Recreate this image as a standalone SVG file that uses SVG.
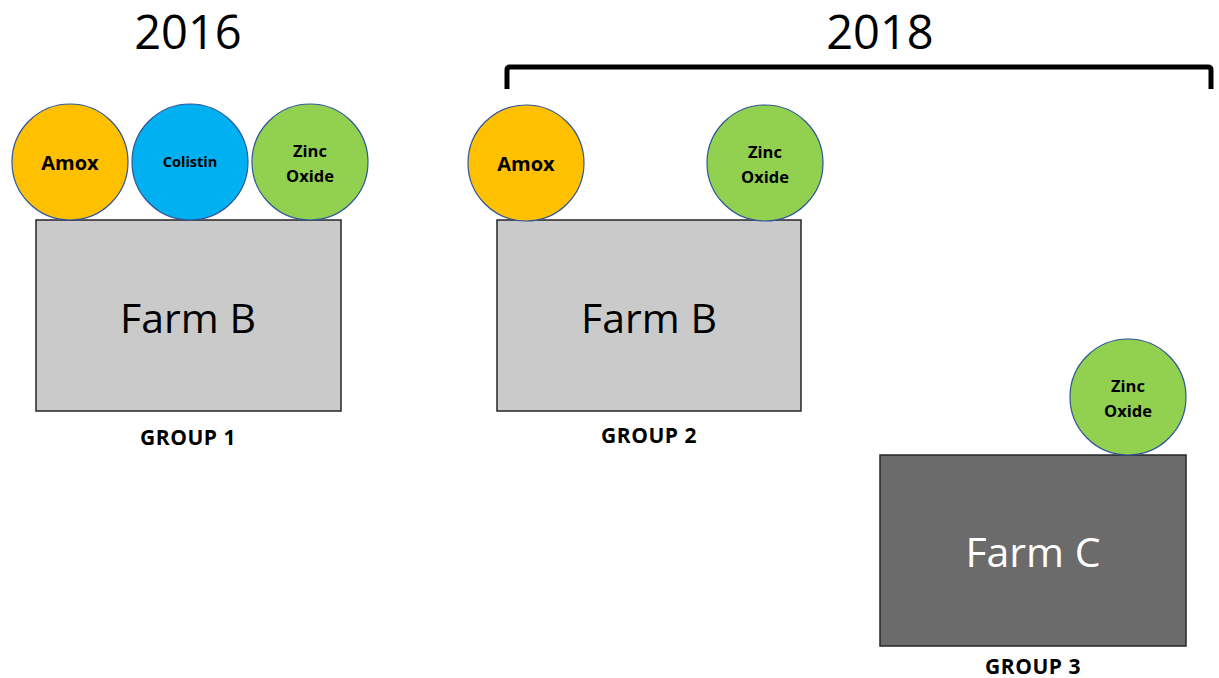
<svg xmlns="http://www.w3.org/2000/svg" width="1219" height="678" viewBox="0 0 1219 678">
<style>
.bg{fill:#ffffff}
.circ{stroke:#2f5597;stroke-width:1.2}
.amox{fill:#ffc000}
.col{fill:#00b0f0}
.zinc{fill:#92d050}
.farm{stroke:#262626;stroke-width:1.5}
.fb{fill:#cacaca}
.fc{fill:#6b6b6b}
.t{font-family:"Open Sans","Liberation Sans",sans-serif;text-anchor:middle}
.ct{font-weight:bold;font-size:20px;fill:#000}
.zt{font-size:16.5px}
.year{font-size:47px;fill:#000}
.fname{font-size:41px}
.grp{font-weight:bold;font-size:21px;letter-spacing:0.5px;fill:#000}
.br{fill:none;stroke:#000;stroke-width:5;stroke-linejoin:round}
</style>
<rect class="bg" x="0" y="0" width="1219" height="678"/>
<text class="t year" x="188" y="49">2016</text>
<text class="t year" x="880" y="49">2018</text>
<g id="connectors">
<path class="br" d="M507,89 V70 Q507,67 510,67 H1208 Q1211,67 1211,70 V89"/>
</g>
<g id="farmB1">
<rect class="farm fb" x="36" y="220" width="305" height="191"/>
<text class="t fname" x="188" y="333" fill="#000">Farm B</text>
<text class="t grp" x="188" y="445">GROUP 1</text>
</g>
<g id="amox1">
<circle class="circ amox" cx="70" cy="162" r="58"/>
<text class="t ct" x="70" y="170">Amox</text>
</g>
<g id="colistin1">
<circle class="circ col" cx="190" cy="162" r="58"/>
<text class="t ct" x="190" y="167" style="font-size:14.5px">Colistin</text>
</g>
<g id="zinc1">
<circle class="circ zinc" cx="310" cy="162" r="58"/>
<text class="t ct zt" x="310" y="157">Zinc</text>
<text class="t ct zt" x="310" y="182">Oxide</text>
</g>
<g id="farmB2">
<rect class="farm fb" x="497" y="220" width="304" height="191"/>
<text class="t fname" x="649" y="333" fill="#000">Farm B</text>
<text class="t grp" x="649" y="443">GROUP 2</text>
</g>
<g id="amox2">
<circle class="circ amox" cx="526" cy="163" r="58"/>
<text class="t ct" x="526" y="171">Amox</text>
</g>
<g id="zinc2">
<circle class="circ zinc" cx="765" cy="163" r="58"/>
<text class="t ct zt" x="765" y="158">Zinc</text>
<text class="t ct zt" x="765" y="183">Oxide</text>
</g>
<g id="farmC">
<rect class="farm fc" x="880" y="455" width="306" height="191"/>
<text class="t fname" x="1033" y="567" fill="#ffffff">Farm C</text>
<text class="t grp" x="1033" y="674">GROUP 3</text>
</g>
<g id="zinc3">
<circle class="circ zinc" cx="1128" cy="397" r="58"/>
<text class="t ct zt" x="1128" y="392">Zinc</text>
<text class="t ct zt" x="1128" y="417">Oxide</text>
</g>
</svg>
